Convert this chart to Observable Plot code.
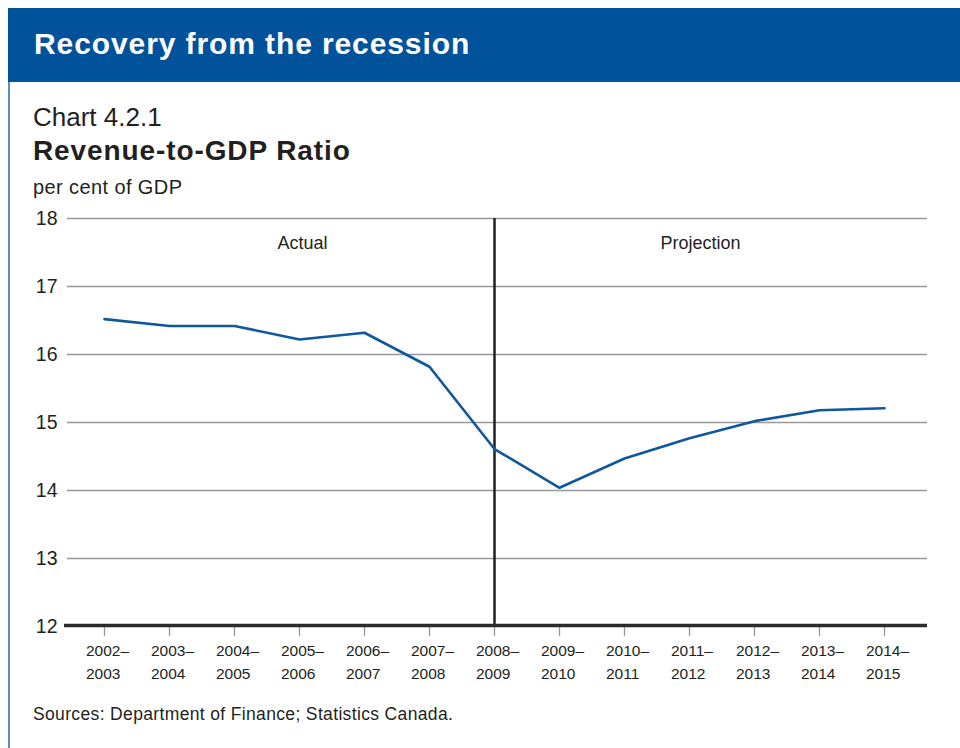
<!DOCTYPE html>
<html>
<head>
<meta charset="utf-8">
<script src="https://cdn.jsdelivr.net/npm/d3@7"></script>
<script src="https://cdn.jsdelivr.net/npm/@observablehq/plot@0.6"></script>
<style>
  html, body { margin: 0; padding: 0; background: #fff; }
  body { width: 960px; height: 748px; position: relative; overflow: hidden;
         font-family: "Liberation Sans", Arial, Helvetica, sans-serif; color: #231f20; }
  #border { position: absolute; left: 8px; top: 8px; width: 2px; height: 740px; background: #5a8cc2; }
  #header { position: absolute; left: 8px; top: 8px; width: 952px; height: 74px; background: #00529b; }
  #header span { position: absolute; left: 26px; top: 19px; color: #fff; font-weight: bold; font-size: 30px; letter-spacing: 0.9px; white-space: nowrap; }
  .t { position: absolute; left: 33px; white-space: nowrap; }
  #num { top: 102px; font-size: 26px; }
  #title { top: 135px; font-size: 28px; font-weight: bold; letter-spacing: 0.9px; }
  #unit { top: 176px; font-size: 20px; letter-spacing: 0.4px; }
  #src { top: 704px; font-size: 17.5px; letter-spacing: 0.35px; }
  #chart { position: absolute; left: 0; top: 200px; }
</style>
</head>
<body>
<div id="border"></div>
<div id="header"><span>Recovery from the recession</span></div>
<div class="t" id="num">Chart 4.2.1</div>
<div class="t" id="title">Revenue-to-GDP Ratio</div>
<div class="t" id="unit">per cent of GDP</div>
<div id="chart"></div>
<div class="t" id="src">Sources: Department of Finance; Statistics Canada.</div>
<script>
const years = ["2002–2003","2003–2004","2004–2005","2005–2006","2006–2007","2007–2008","2008–2009","2009–2010","2010–2011","2011–2012","2012–2013","2013–2014","2014–2015"];
const ratio = [16.52, 16.42, 16.42, 16.22, 16.32, 15.82, 14.61, 14.04, 14.47, 14.77, 15.02, 15.18, 15.21];
const yTicks = [12, 13, 14, 15, 16, 17, 18];
const divider = "2008–2009";
const actualLabel = {label: "Actual", year: "2005–2006"};
const projectionLabel = {label: "Projection", year: "2011–2012"};

const data = years.map((y, i) => ({year: y, value: ratio[i]}));

const chart = Plot.plot({
  width: 960,
  height: 490,
  marginTop: 18,
  marginBottom: 64,
  marginLeft: 67,
  marginRight: 33,
  style: {fontFamily: '"Liberation Sans", Arial, Helvetica, sans-serif', color: "#231f20", background: "transparent"},
  x: {type: "point", domain: years, range: [101, 886], padding: 0},
  y: {domain: [12, 18], ticks: yTicks},
  marks: [
    Plot.gridY(yTicks.slice(1), {stroke: "#999", strokeOpacity: 1, strokeWidth: 1.3}),
    Plot.axisY(yTicks, {tickSize: 0, tickPadding: 10, fontSize: 19.5, fill: "#231f20", label: null, tickFormat: d3.format("d")}),
    Plot.axisX(years, {tickSize: 10, stroke: "#999", strokeWidth: 1.3, tickFormat: () => "", label: null}),
    Plot.axisX(years, {
      tickSize: 0, tickPadding: 14,
      tickFormat: d => d.replace("–", "–\n"),
      textAnchor: "start", dx: -18.5, fontSize: 15.5, lineHeight: 1.45,
      fill: "#231f20", label: null
    }),
    Plot.ruleX([divider], {y1: 12, y2: 18, stroke: "#231f20", strokeWidth: 2.5, insetTop: -2}),
    Plot.ruleY([12], {stroke: "#2b2b2b", strokeWidth: 3.5, insetLeft: -3, dy: -1}),
    Plot.line(data, {x: "year", y: "value", stroke: "#0f589d", strokeWidth: 2.6}),
    Plot.text([actualLabel], {x: "year", y: 17.63, text: "label", dx: 3, fontSize: 18, fill: "#231f20"}),
    Plot.text([projectionLabel], {x: "year", y: 17.63, text: "label", dx: 11, fontSize: 18, fill: "#231f20"})
  ]
});
document.getElementById("chart").appendChild(chart);
</script>
</body>
</html>
